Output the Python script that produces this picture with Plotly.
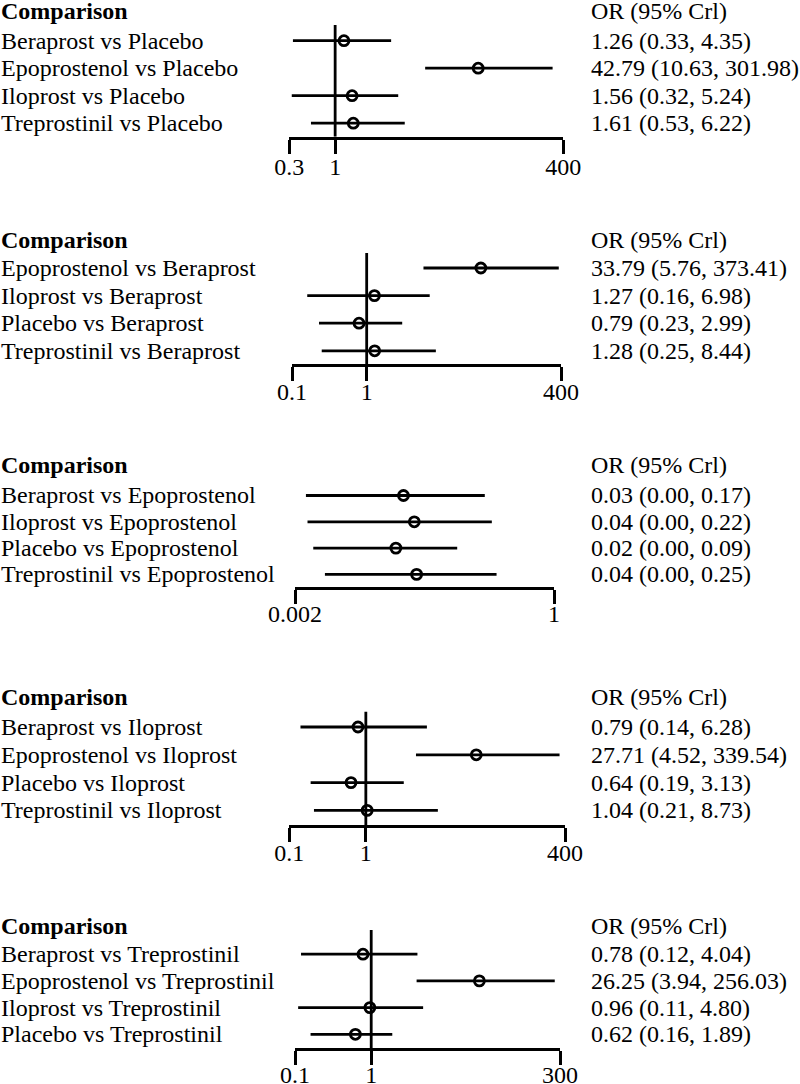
import math
import plotly.graph_objects as go

W, H = 800, 1084
FONT = "Liberation Serif"
FS = 24

# ---------------- data ----------------
p1_labels = ["Beraprost vs Placebo", "Epoprostenol vs Placebo", "Iloprost vs Placebo", "Treprostinil vs Placebo"]
p1_or = [1.26, 42.79, 1.56, 1.61]
p1_lo = [0.33, 10.63, 0.32, 0.53]
p1_hi = [4.35, 301.98, 5.24, 6.22]
p1_txt = ["1.26 (0.33, 4.35)", "42.79 (10.63, 301.98)", "1.56 (0.32, 5.24)", "1.61 (0.53, 6.22)"]
p1_ticks = [0.3, 1, 400]
p1_ticktext = ["0.3", "1", "400"]

p2_labels = ["Epoprostenol vs Beraprost", "Iloprost vs Beraprost", "Placebo vs Beraprost", "Treprostinil vs Beraprost"]
p2_or = [33.79, 1.27, 0.79, 1.28]
p2_lo = [5.76, 0.16, 0.23, 0.25]
p2_hi = [373.41, 6.98, 2.99, 8.44]
p2_txt = ["33.79 (5.76, 373.41)", "1.27 (0.16, 6.98)", "0.79 (0.23, 2.99)", "1.28 (0.25, 8.44)"]
p2_ticks = [0.1, 1, 400]
p2_ticktext = ["0.1", "1", "400"]

p3_labels = ["Beraprost vs Epoprostenol", "Iloprost vs Epoprostenol", "Placebo vs Epoprostenol", "Treprostinil vs Epoprostenol"]
p3_or = [0.027, 0.035, 0.0225, 0.037]
p3_lo = [0.0026, 0.0027, 0.0031, 0.0041]
p3_hi = [0.19, 0.225, 0.098, 0.252]
p3_txt = ["0.03 (0.00, 0.17)", "0.04 (0.00, 0.22)", "0.02 (0.00, 0.09)", "0.04 (0.00, 0.25)"]
p3_ticks = [0.002, 1]
p3_ticktext = ["0.002", "1"]

p4_labels = ["Beraprost vs Iloprost", "Epoprostenol vs Iloprost", "Placebo vs Iloprost", "Treprostinil vs Iloprost"]
p4_or = [0.79, 27.71, 0.64, 1.04]
p4_lo = [0.14, 4.52, 0.19, 0.21]
p4_hi = [6.28, 339.54, 3.13, 8.73]
p4_txt = ["0.79 (0.14, 6.28)", "27.71 (4.52, 339.54)", "0.64 (0.19, 3.13)", "1.04 (0.21, 8.73)"]
p4_ticks = [0.1, 1, 400]
p4_ticktext = ["0.1", "1", "400"]

p5_labels = ["Beraprost vs Treprostinil", "Epoprostenol vs Treprostinil", "Iloprost vs Treprostinil", "Placebo vs Treprostinil"]
p5_or = [0.78, 26.25, 0.96, 0.62]
p5_lo = [0.12, 3.94, 0.11, 0.16]
p5_hi = [4.04, 256.03, 4.80, 1.89]
p5_txt = ["0.78 (0.12, 4.04)", "26.25 (3.94, 256.03)", "0.96 (0.11, 4.80)", "0.62 (0.16, 1.89)"]
p5_ticks = [0.1, 1, 300]
p5_ticktext = ["0.1", "1", "300"]

header_left = "Comparison"
header_right = "OR (95% Crl)"

panels = [
    (p1_labels, p1_or, p1_lo, p1_hi, p1_txt, p1_ticks, p1_ticktext),
    (p2_labels, p2_or, p2_lo, p2_hi, p2_txt, p2_ticks, p2_ticktext),
    (p3_labels, p3_or, p3_lo, p3_hi, p3_txt, p3_ticks, p3_ticktext),
    (p4_labels, p4_or, p4_lo, p4_hi, p4_txt, p4_ticks, p4_ticktext),
    (p5_labels, p5_or, p5_lo, p5_hi, p5_txt, p5_ticks, p5_ticktext),
]

# ---------------- layout geometry (pixels) ----------------
geo = [
    dict(header=11, row1=40.7, step=27.5, axis=136.7, x0=289.3, x1=563.3, null_top=25, standoff=-7),
    dict(header=240, row1=268.0, step=27.6, axis=364, x0=292, x1=561, null_top=253, standoff=-10),
    dict(header=465, row1=495.5, step=26.3, axis=586.7, x0=295, x1=554, null_top=None, standoff=-10),
    dict(header=696.5, row1=727.0, step=27.8, axis=825, x0=289.3, x1=565, null_top=711.7, standoff=-10),
    dict(header=926, row1=954.2, step=26.7, axis=1048, x0=295, x1=560, null_top=930, standoff=-11),
]
RIGHT_X = 588.5
LEFT_X = -1

fig = go.Figure()
annotations = []
shapes = []
layout_axes = {}

for k, (labels, orv, lo, hi, txt, ticks, ticktext) in enumerate(panels):
    g = geo[k]
    n = k + 1
    xa = "x" if n == 1 else f"x{n}"
    ya = "y" if n == 1 else f"y{n}"
    top_px = max(0.0, g["header"] - 20)
    bot_px = g["axis"]
    idx = lambda ypx, g=g: 1 + (ypx - g["row1"]) / g["step"]
    rows = list(range(1, len(labels) + 1))

    # CI lines
    for i, r in enumerate(rows):
        fig.add_trace(go.Scatter(
            x=[lo[i], hi[i]], y=[r, r], mode="lines",
            line=dict(color="black", width=2.8),
            xaxis=xa, yaxis=ya, hoverinfo="skip", showlegend=False, cliponaxis=False))
    # point estimates
    fig.add_trace(go.Scatter(
        x=orv, y=rows, mode="markers",
        marker=dict(symbol="circle-open", size=10, color="black", line=dict(width=2.8, color="black")),
        xaxis=xa, yaxis=ya, showlegend=False, cliponaxis=False))

    xmin, xmax = ticks[0], ticks[-1]
    layout_axes["xaxis" if n == 1 else f"xaxis{n}"] = dict(
        type="log", range=[math.log10(xmin), math.log10(xmax)],
        domain=[g["x0"] / W, g["x1"] / W], anchor=ya,
        showline=True, linecolor="black", linewidth=2.8,
        ticks="outside", ticklen=14, tickwidth=2.8, tickcolor="black",
        tickvals=ticks, ticktext=ticktext, ticklabelstandoff=g["standoff"],
        tickfont=dict(family=FONT, size=FS, color="black"),
        showgrid=False, zeroline=False, fixedrange=True, automargin=False)
    layout_axes["yaxis" if n == 1 else f"yaxis{n}"] = dict(
        domain=[1 - bot_px / H, 1 - top_px / H],
        range=[idx(bot_px), idx(top_px)],
        visible=False, fixedrange=True, anchor=xa, automargin=False)

    # null line at OR = 1
    if g["null_top"] is not None:
        shapes.append(dict(type="line", xref=xa, yref=ya, x0=1, x1=1,
                           y0=idx(g["null_top"]), y1=idx(bot_px),
                           line=dict(color="black", width=2.8)))

    # headers
    annotations.append(dict(text=f"<b>{header_left}</b>", xref="paper", x=LEFT_X / W, xanchor="left",
                            yref=ya, y=idx(g["header"]), yanchor="middle", showarrow=False,
                            font=dict(family=FONT, size=FS, color="black")))
    annotations.append(dict(text=header_right, xref="paper", x=RIGHT_X / W, xanchor="left",
                            yref=ya, y=idx(g["header"]), yanchor="middle", showarrow=False,
                            font=dict(family=FONT, size=FS, color="black")))
    for i, r in enumerate(rows):
        annotations.append(dict(text=labels[i], xref="paper", x=LEFT_X / W, xanchor="left",
                                yref=ya, y=r, yanchor="middle", showarrow=False,
                                font=dict(family=FONT, size=FS, color="black")))
        annotations.append(dict(text=txt[i], xref="paper", x=RIGHT_X / W, xanchor="left",
                                yref=ya, y=r, yanchor="middle", showarrow=False,
                                font=dict(family=FONT, size=FS, color="black")))

fig.update_layout(
    width=W, height=H,
    margin=dict(l=0, r=0, t=0, b=0, pad=0, autoexpand=False),
    paper_bgcolor="white", plot_bgcolor="white",
    showlegend=False,
    annotations=annotations, shapes=shapes,
    font=dict(family=FONT, size=FS, color="black"),
    **layout_axes)

fig.write_html("out.html", config={"displayModeBar": False},
               post_script="document.body.style.margin='0';")
